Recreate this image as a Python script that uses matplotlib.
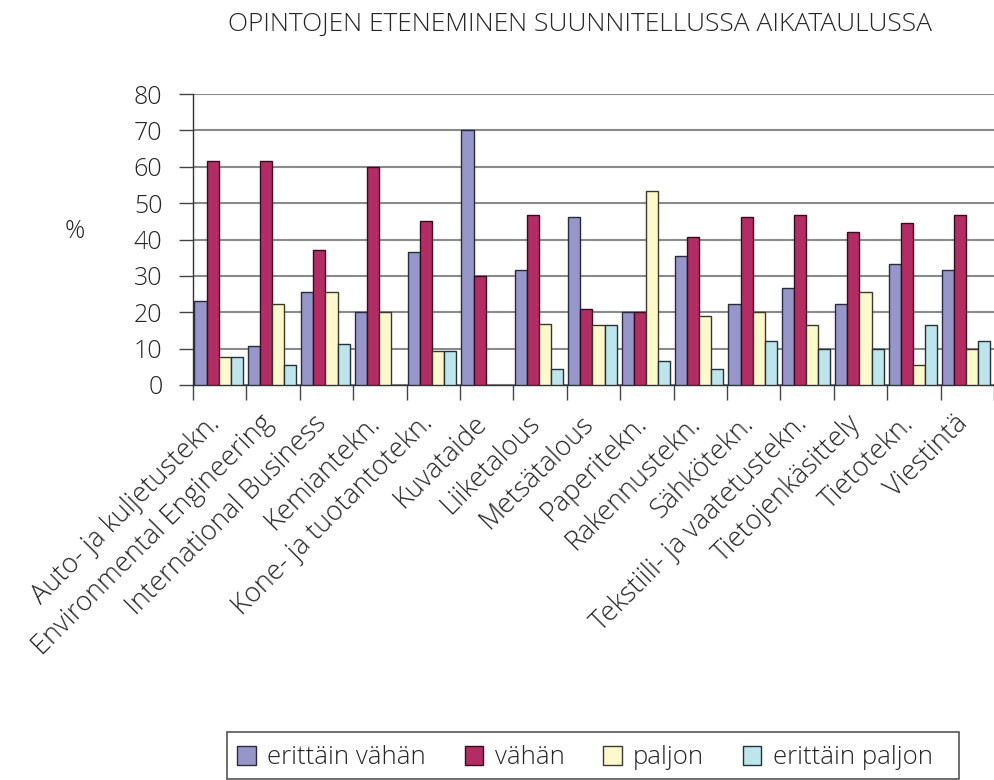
import numpy as np
import matplotlib
matplotlib.use("Agg")
import matplotlib.pyplot as plt
from matplotlib.patches import Rectangle
from matplotlib.ticker import MultipleLocator, FixedLocator
from matplotlib.transforms import ScaledTranslation

plt.rcParams["font.family"] = ["Open Sans", "DejaVu Sans"]
plt.rcParams["font.weight"] = "light"

# ----------------------------
# Data (%)
# ----------------------------
categories = [
    "Auto- ja kuljetustekn.",
    "Environmental Engineering",
    "International Business",
    "Kemiantekn.",
    "Kone- ja tuotantotekn.",
    "Kuvataide",
    "Liiketalous",
    "Metsätalous",
    "Paperitekn.",
    "Rakennustekn.",
    "Sähkötekn.",
    "Tekstiili- ja vaatetustekn.",
    "Tietojenkäsittely",
    "Tietotekn.",
    "Viestintä",
]

erittain_vahan = [23.1, 10.8, 25.7, 20.0, 36.6, 70.0, 31.7, 46.2, 20.0, 35.5, 22.4, 26.7, 22.4, 33.3, 31.7]
vahan = [61.5, 61.5, 37.1, 60.0, 45.0, 30.0, 46.7, 20.8, 20.0, 40.6, 46.2, 46.7, 42.1, 44.4, 46.7]
paljon = [7.7, 22.4, 25.7, 20.0, 9.3, 0.0, 16.9, 16.4, 53.3, 19.0, 20.0, 16.4, 25.7, 5.6, 10.0]
erittain_paljon = [7.7, 5.5, 11.4, 0.0, 9.3, 0.0, 4.4, 16.4, 6.7, 4.4, 12.0, 10.0, 10.0, 16.4, 12.0]

series_names = ["erittäin vähän", "vähän", "paljon", "erittäin paljon"]
series_colors = ["#9696C8", "#B22D63", "#FEF8CD", "#BEE4EC"]
edge_colors = ["#2a2a40", "#3a0a1e", "#3a3a2a", "#223238"]

TEXT_COLOR = "#262626"

# ----------------------------
# Figure
# ----------------------------
fig = plt.figure(figsize=(9.94, 7.8), dpi=100)
ax = fig.add_axes([193 / 994, 1 - 385 / 780, 801 / 994, 291 / 780])

x = np.arange(len(categories))
all_series = [erittain_vahan, vahan, paljon, erittain_paljon]
bar_w = 0.226
for i, (vals, name, col, ec) in enumerate(zip(all_series, series_names, series_colors, edge_colors)):
    # zero values are not drawn at all in the original
    heights = np.array(vals, dtype=float)
    heights[heights == 0] = np.nan
    offset = (i - 1.5) * bar_w - 0.02
    ax.bar(x + offset, heights, width=bar_w, color=col, edgecolor=ec,
           linewidth=1.0, label=name, zorder=3)

ax.set_xlim(-0.5, len(categories) - 0.5)
ax.set_ylim(0, 80)
ax.yaxis.set_major_locator(MultipleLocator(10))
ax.yaxis.grid(True, color="#8a8a8a", linewidth=1.5, zorder=0)
ax.set_axisbelow(True)

# category labels at centres, tick marks at boundaries
ax.set_xticks(x)
ax.set_xticklabels(categories, rotation=45, ha="right", va="center",
                   rotation_mode="anchor", fontsize=19.5, color=TEXT_COLOR)
ax.tick_params(axis="x", which="major", length=0, pad=25)
shift = ScaledTranslation(-4 / 100, 0, fig.dpi_scale_trans)
for lbl in ax.get_xticklabels():
    lbl.set_transform(lbl.get_transform() + shift)
ax.xaxis.set_minor_locator(FixedLocator(np.arange(len(categories) + 1) - 0.5))
ax.tick_params(axis="x", which="minor", length=11, width=1, color="#444444")

ax.tick_params(axis="y", length=10, width=1, color="#444444",
               labelsize=18, labelcolor=TEXT_COLOR, pad=12)

for side in ("top", "right"):
    ax.spines[side].set_visible(False)
for side in ("left", "bottom"):
    ax.spines[side].set_color("#333333")
    ax.spines[side].set_linewidth(1.0)

ax.set_ylabel("%", rotation=0, fontsize=18, fontweight="light",
              color=TEXT_COLOR, va="center")
ax.yaxis.set_label_coords(-0.148, 0.526)

fig.text(580 / 994, 1 - 31 / 780, "OPINTOJEN ETENEMINEN SUUNNITELLUSSA AIKATAULUSSA",
         ha="center", va="baseline", fontsize=19, color=TEXT_COLOR)

# legend entries, with its own plain rectangular box
leg = fig.legend(
    loc="center left",
    bbox_to_anchor=(227 / 994, 1 - 758 / 780),
    ncol=4,
    fontsize=18.5,
    frameon=False,
    handlelength=0.72,
    handleheight=0.72,
    handletextpad=0.45,
    columnspacing=1.5,
    borderpad=0,
    borderaxespad=0.4,
)
for t in leg.get_texts():
    t.set_color(TEXT_COLOR)

fig.add_artist(Rectangle((227 / 994, 1 / 780), 732 / 994, 47 / 780,
                         transform=fig.transFigure, fill=False,
                         edgecolor="#555555", linewidth=1.2))

fig.savefig("out.png", dpi=100)
